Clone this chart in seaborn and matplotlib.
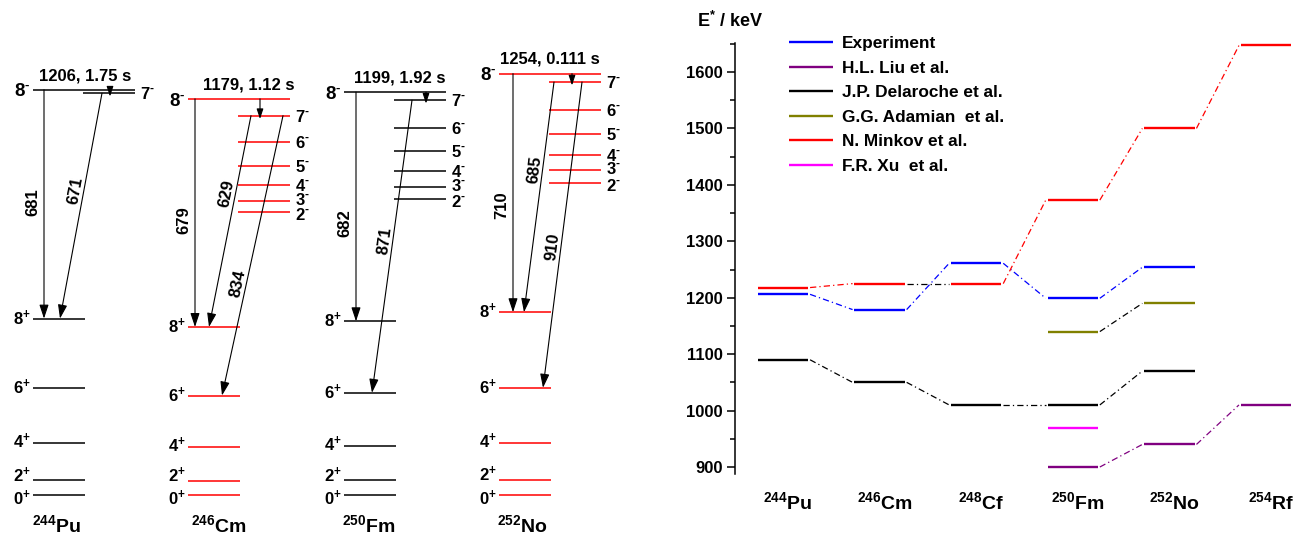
import numpy as np
import pandas as pd
import matplotlib
matplotlib.use('Agg')
import matplotlib.pyplot as plt
import seaborn as sns
from matplotlib.ticker import MultipleLocator

# ---------------- level schemes (left part) ----------------
scheme_mass = ['244', '246', '250', '252']
scheme_elem = ['Pu', 'Cm', 'Fm', 'No']
isomer_energy = [1206, 1179, 1199, 1254]
isomer_halflife = ['1.75 s', '1.12 s', '1.92 s', '0.111 s']

gsb_spin = ['0', '2', '4', '6', '8']
gsb_pu = [0, 44, 155, 318, 525]
gsb_cm = [0, 43, 142, 296, 500]
gsb_fm = [0, 44, 146, 304, 517]
gsb_no = [0, 46, 155, 319, 544]

side_spin = ['7', '6', '5', '4', '3', '2']
side_pu = [1196]
side_cm = [1129, 1051, 979, 923, 875, 842]
side_fm = [1175, 1092, 1024, 964, 917, 881]
side_no = [1229, 1146, 1074, 1012, 967, 929]

# (from level, to level, gamma energy)
gammas_pu = [('8-', '8+', 681), ('7-', '8+', 671)]
gammas_cm = [('8-', '8+', 679), ('7-', '8+', 629), ('7-', '6+', 834)]
gammas_fm = [('8-', '8+', 682), ('7-', '6+', 871)]
gammas_no = [('8-', '8+', 710), ('7-', '8+', 685), ('7-', '6+', 910)]

# ---------------- systematics (right part) ----------------
nucl_mass = ['244', '246', '248', '250', '252', '254']
nucl_elem = ['Pu', 'Cm', 'Cf', 'Fm', 'No', 'Rf']
experiment = [1206, 1179, 1261, 1199, 1254, np.nan]
liu = [np.nan, np.nan, np.nan, 900, 940, 1010]
delaroche = [1090, 1050, 1010, 1010, 1070, np.nan]
adamian = [np.nan, np.nan, np.nan, 1140, 1190, np.nan]
minkov = [1218, 1225, 1225, 1373, 1500, 1647]
xu = [np.nan, np.nan, np.nan, 970, np.nan, np.nan]

sns.set_theme(style='ticks')
plt.rcParams.update({
    'font.family': ['Liberation Sans', 'DejaVu Sans'],
    'font.weight': 'bold',
    'mathtext.fontset': 'custom',
    'mathtext.rm': 'Liberation Sans:bold',
    'mathtext.it': 'Liberation Sans:bold:italic',
    'mathtext.bf': 'Liberation Sans:bold',
    'mathtext.sf': 'Liberation Sans:bold',
    'mathtext.default': 'rm',
    'axes.edgecolor': 'black',
    'xtick.color': 'black',
    'ytick.color': 'black',
    'text.color': 'black',
    'axes.linewidth': 1.1,
})

W, H = 1303, 536
fig = plt.figure(figsize=(W / 100, H / 100), dpi=100)


def spin_text(s, sign):
    return s + r'$^{\text{' + sign + '}}$'


# ---- left: level schemes ----
axl = fig.add_axes([0, 0, 640 / W, 1])
axl.set_xlim(0, 640)
axl.set_ylim((495 - 536) / 0.336, 495 / 0.336)
axl.axis('off')

gsb_all = [gsb_pu, gsb_cm, gsb_fm, gsb_no]
side_all = [side_pu, side_cm, side_fm, side_no]
gammas_all = [gammas_pu, gammas_cm, gammas_fm, gammas_no]

col_x = [33, 188, 344, 499]
col_color = ['black', 'red', 'black', 'red']
# arrow x start, x end (relative to column) and label position along arrow
gamma_x = [[(11, 11, .49), (69, 27, .43)],
           [(7, 7, .53), (63, 21, .37), (95, 34, .60)],
           [(12, 12, .57), (68, 28, .48)],
           [(14, 14, .55), (55, 25, .38), (83, 44, .54)]]
short_x = [77, 72, 82, 73]
top_dx = [52, 61, 56, 51]
name_dx = [24, 31, 25, 23]
gsb_dy = [-3.0, 3.2, 1.0, 0, 0]
side_dy = [0, 0, 0, 0, 1.2, -1.5]

arrow_kw = dict(arrowstyle='-|>,head_length=0.6,head_width=0.2', color='black',
                lw=0.8, shrinkA=0, shrinkB=0, mutation_scale=14)

for k in range(4):
    c0 = col_x[k]
    col = col_color[k]
    gsb = gsb_all[k]
    side = side_all[k]
    e_iso = isomer_energy[k]
    axl.hlines(gsb, c0, c0 + 52, color=col, lw=1.1)
    axl.hlines(e_iso, c0, c0 + 102, color=col, lw=1.1)
    axl.hlines(side, c0 + 50, c0 + 102, color=col, lw=1.1)

    for s, e, dy in zip(gsb_spin, gsb, gsb_dy):
        axl.annotate(spin_text(s, '+'), (c0, e), xytext=(-1.5, -4.3 + dy), textcoords='offset points',
                     ha='right', va='baseline', fontsize=12)
    axl.annotate(spin_text('8', '-'), (c0, e_iso), xytext=(-1.5, -4.8), textcoords='offset points',
                 ha='right', va='baseline', fontsize=13.5)
    for s, e, dy in zip(side_spin, side, side_dy):
        axl.annotate(spin_text(s, '-'), (c0 + 107, e), xytext=(0, -4.3 + dy), textcoords='offset points',
                     ha='left', va='baseline', fontsize=12)
    axl.annotate(f'{e_iso}, {isomer_halflife[k]}', (c0 + top_dx[k], e_iso), xytext=(0, 7),
                 textcoords='offset points', ha='center', va='baseline', fontsize=12)
    axl.text(c0 + name_dx[k], (495 - 532) / 0.336, f'$^{{{scheme_mass[k]}}}${scheme_elem[k]}',
             ha='center', va='baseline', fontsize=14)

    lev = {'8-': e_iso, '7-': side[0], '8+': gsb[4], '6+': gsb[3]}
    axl.annotate('', xy=(c0 + short_x[k], side[0] - 10), xytext=(c0 + short_x[k], e_iso),
                 arrowprops=dict(arrow_kw, mutation_scale=10))
    for (fr, to, eg), (xa, xb, t) in zip(gammas_all[k], gamma_x[k]):
        x1, y1 = c0 + xa, lev[fr]
        x2, y2 = c0 + xb, lev[to]
        axl.annotate('', xy=(x2, y2), xytext=(x1, y1), arrowprops=arrow_kw)
        p1 = axl.transData.transform((x1, y1))
        p2 = axl.transData.transform((x2, y2))
        ang = np.degrees(np.arctan2(p1[1] - p2[1], p1[0] - p2[0]))
        xm, ym = x1 + (x2 - x1) * t, y1 + (y2 - y1) * t
        off = 8 if xa == xb else 6
        axl.annotate(str(eg), (xm, ym), xytext=(-off, 0), textcoords='offset points',
                     rotation=ang, rotation_mode='anchor', ha='center', va='center', fontsize=12)

# ---- right: systematics ----
axr = fig.add_axes([735 / W, (H - 474) / H, (W - 735) / W, 431 / H])
series = [('Experiment', experiment, 'blue', None),
          ('H.L. Liu et al.', liu, '#800080', None),
          ('J.P. Delaroche et al.', delaroche, 'black', None),
          ('G.G. Adamian  et al.', adamian, '#808000', ['black']),
          ('N. Minkov et al.', minkov, 'red', ['red', 'black', 'red', 'red', 'red']),
          ('F.R. Xu  et al.', xu, '#ff00ff', None)]
w = 0.26
for name, vals, c, link_colors in series:
    df = pd.DataFrame({'pos': np.arange(6), 'E': vals}).dropna()
    axr.hlines(df['E'], df['pos'] - w, df['pos'] + w, color=c, lw=1.7, label=name)
    recs = list(df.itertuples(index=False))
    for j in range(len(recs) - 1):
        a, b = recs[j], recs[j + 1]
        conn = pd.DataFrame({'x': [a.pos + w + 0.02, b.pos - w - 0.02], 'E': [a.E, b.E]})
        lc = link_colors[j] if link_colors else c
        sns.lineplot(data=conn, x='x', y='E', estimator=None, sort=False,
                     color=lc, lw=0.9, linestyle=(0, (5, 2.5, 1, 2.5)), ax=axr, legend=False)

axr.set_xlim(-0.497, 5.383)
axr.set_ylim(887.6, 1651.4)
axr.set_xlabel('')
axr.set_ylabel('')
axr.set_xticks([])
for sp in ['top', 'right', 'bottom']:
    axr.spines[sp].set_visible(False)
axr.yaxis.set_major_locator(MultipleLocator(100))
axr.yaxis.set_minor_locator(MultipleLocator(50))
axr.tick_params(axis='y', which='major', direction='out', length=6, width=1.1, labelsize=12, pad=3)
axr.tick_params(axis='y', which='minor', direction='out', length=3.5, width=1.1)

for i in range(6):
    axr.text(i + 0.05, -0.066, f'$^{{{nucl_mass[i]}}}${nucl_elem[i]}', transform=axr.get_xaxis_transform(),
             ha='center', va='center', fontsize=14)

axr.legend(loc='upper left', bbox_to_anchor=(789 / W, 1 - 36 / H), bbox_transform=fig.transFigure,
           frameon=False, prop=dict(weight='bold', size=12.4), handlelength=2.56, handletextpad=0.5,
           labelspacing=0.55, borderpad=0, borderaxespad=0)

fig.text(697 / W, 1 - 21 / H, r'E$^{*}$ / keV', ha='left', va='center', fontsize=13)

fig.savefig('out.png', dpi=100)
